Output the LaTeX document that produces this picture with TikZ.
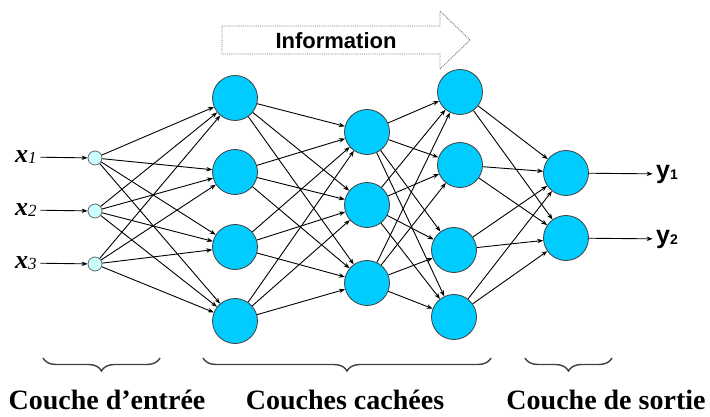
\documentclass[tikz,border=0pt]{standalone}
\usepackage{fontspec}
\setmainfont{Liberation Serif}
\newfontfamily\arialfont{Liberation Sans}
\usetikzlibrary{arrows.meta,decorations.pathreplacing}
\definecolor{neuronblue}{RGB}{0,204,255}
\definecolor{entrycyan}{RGB}{204,255,255}
\newcommand{\invar}[1]{{\fontsize{26}{26}\selectfont\bfseries\itshape x}{\fontsize{17}{17}\selectfont\itshape\raisebox{-1pt}{#1}}}
\newcommand{\outvar}[1]{{\arialfont\bfseries\fontsize{25}{25}\selectfont y}{\arialfont\bfseries\fontsize{14}{14}\selectfont\raisebox{-1pt}{#1}}}

\begin{document}
\begin{tikzpicture}[x=1pt, y=-1pt,
	neuron/.style={circle, draw=black!75, fill=neuronblue, line width=0.8pt, minimum size=45pt, inner sep=0pt},
	entry/.style={circle, draw=black!60, fill=entrycyan, line width=0.8pt, minimum size=14pt, inner sep=0pt},
	conn/.style={-{Stealth[length=6pt, width=4.5pt]}, line width=0.9pt},
	accolade/.style={decorate, decoration={brace, mirror, amplitude=13pt}, draw=black!75, line width=1.4pt},
	legend/.style={font=\bfseries\fontsize{28}{28}\selectfont}]
	\useasboundingbox (0,0) rectangle (710,417);

	% couche d'entree
	\node[entry] (i1) at (95,158) {};
	\node[entry] (i2) at (95,211) {};
	\node[entry] (i3) at (95,264) {};
	\node (x1) at (26,157) {\invar{1}};
	\node (x2) at (26,210) {\invar{2}};
	\node (x3) at (26,263) {\invar{3}};

	% couches cachees
	\node[neuron] (a1) at (235,98) {};
	\node[neuron] (a2) at (235,172) {};
	\node[neuron] (a3) at (235,247) {};
	\node[neuron] (a4) at (235,321) {};

	\node[neuron] (b1) at (367,132) {};
	\node[neuron] (b2) at (367,205) {};
	\node[neuron] (b3) at (367,283) {};

	\node[neuron] (c1) at (460,92) {};
	\node[neuron] (c2) at (460,165) {};
	\node[neuron] (c3) at (454,250) {};
	\node[neuron] (c4) at (454,317) {};

	% couche de sortie
	\node[neuron] (o1) at (566,173) {};
	\node[neuron] (o2) at (566,238) {};
	\node (y1) at (667,174) {\outvar{1}};
	\node (y2) at (667,239) {\outvar{2}};

	\path[conn]
		(x1) edge (i1) (x2) edge (i2) (x3) edge (i3)
		(i1) edge (a1) (i1) edge (a2) (i1) edge (a3) (i1) edge (a4)
		(i2) edge (a1) (i2) edge (a2) (i2) edge (a3) (i2) edge (a4)
		(i3) edge (a1) (i3) edge (a2) (i3) edge (a3) (i3) edge (a4)
		(a1) edge (b1) (a1) edge (b2) (a1) edge (b3)
		(a2) edge (b1) (a2) edge (b2) (a2) edge (b3)
		(a3) edge (b1) (a3) edge (b2) (a3) edge (b3)
		(a4) edge (b1) (a4) edge (b2) (a4) edge (b3)
		(b1) edge (c1) (b1) edge (c2) (b1) edge (c3) (b1) edge (c4)
		(b2) edge (c1) (b2) edge (c2) (b2) edge (c3) (b2) edge (c4)
		(b3) edge (c1) (b3) edge (c2) (b3) edge (c3) (b3) edge (c4)
		(c1) edge (o1) (c1) edge (o2)
		(c2) edge (o1) (c2) edge (o2)
		(c3) edge (o1) (c3) edge (o2)
		(c4) edge (o1) (c4) edge (o2)
		(o1) edge (y1) (o2) edge (y2)
	;

	% fleche information
	\draw[black!55, densely dotted, line width=0.9pt]
		(222,26) -- (440,26) -- (440,11) -- (470,40) -- (440,69) -- (440,54) -- (222,54) -- cycle;
	\node[font=\arialfont\bfseries\fontsize{22}{22}\selectfont] (info) at (336,41) {Information};

	% accolades
	\draw[accolade] (43,358) -- (160,358);
	\draw[accolade] (203,358) -- (491,358);
	\draw[accolade] (525,358) -- (612,358);

	\node[legend] (l1) at (107,400) {Couche d’entrée};
	\node[legend] (l2) at (345,400) {Couches cachées};
	\node[legend] (l3) at (606,400) {Couche de sortie};
\end{tikzpicture}
\end{document}
